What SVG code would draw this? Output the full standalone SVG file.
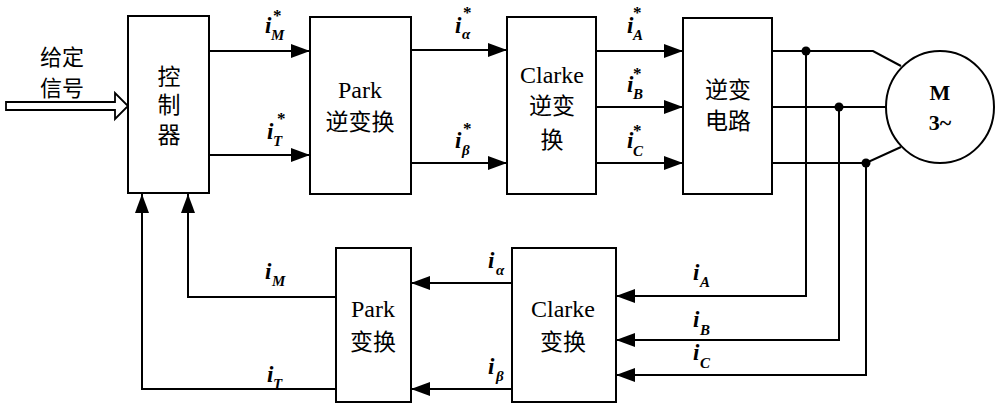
<svg xmlns="http://www.w3.org/2000/svg" width="998" height="404" viewBox="0 0 998 404">
<style>
.box{fill:#fff;stroke:#000;stroke-width:2}
.ln{fill:none;stroke:#000;stroke-width:2}
.cn{font-family:"Noto Sans CJK SC","Noto Sans",sans-serif;font-size:23px;fill:#000;text-anchor:middle}
.lt{font-family:"Liberation Serif",serif;font-size:24px;fill:#000;text-anchor:middle}
.i{font-family:"Liberation Serif",serif;font-size:23px;font-weight:bold;font-style:italic;fill:#000}
.s{font-family:"Liberation Serif",serif;font-size:15px;font-weight:bold;font-style:italic;fill:#000}
.st{font-family:"Liberation Serif",serif;font-size:17px;font-weight:bold;fill:#000}
</style>
<defs>
<marker id="ah" markerUnits="userSpaceOnUse" markerWidth="20" markerHeight="14" refX="19" refY="7" orient="auto">
<path d="M0,0 L19,7 L0,14 Z" fill="#000"/>
</marker>
</defs>
<rect width="998" height="404" fill="#fff"/>

<g id="input">
<polygon points="6,102 115,102 115,93 128,106 115,119 115,110 6,110" fill="#fff" stroke="#000" stroke-width="1.8"/>
<text x="40" y="65" class="cn" style="text-anchor:start;font-size:22px">给定</text>
<text x="40" y="96" class="cn" style="text-anchor:start;font-size:22px">信号</text>
</g>

<g id="controller">
<rect x="128" y="16" width="81" height="177" class="box"/>
<text x="169" y="85" class="cn">控</text>
<text x="169" y="113" class="cn">制</text>
<text x="169" y="143" class="cn">器</text>
</g>

<g id="park_inv">
<rect x="310" y="17" width="101" height="177" class="box"/>
<text x="360" y="98" class="lt">Park</text>
<text x="360" y="130" class="cn">逆变换</text>
</g>

<g id="clarke_inv">
<rect x="507" y="17" width="89" height="177" class="box"/>
<text x="552" y="83" class="lt">Clarke</text>
<text x="552" y="114" class="cn">逆变</text>
<text x="552" y="148" class="cn">换</text>
</g>

<g id="inverter">
<rect x="683" y="18" width="89" height="176" class="box"/>
<text x="728" y="98" class="cn">逆变</text>
<text x="728" y="129" class="cn">电路</text>
</g>

<g id="motor">
<ellipse cx="940" cy="107" rx="54" ry="56" class="box"/>
<text x="940" y="100" class="lt" style="font-weight:bold;font-size:22px">M</text>
<text x="940" y="130" class="lt" style="font-weight:bold;font-size:22px">3~</text>
</g>

<g id="park">
<rect x="336" y="248" width="75" height="154" class="box"/>
<text x="373" y="317" class="lt">Park</text>
<text x="373" y="350" class="cn">变换</text>
</g>

<g id="clarke">
<rect x="512" y="248" width="104" height="154" class="box"/>
<text x="563" y="317" class="lt">Clarke</text>
<text x="563" y="350" class="cn">变换</text>
</g>

<g id="connectors">
<line x1="209" y1="51" x2="310" y2="51" class="ln" marker-end="url(#ah)"/>
<line x1="209" y1="155" x2="310" y2="155" class="ln" marker-end="url(#ah)"/>
<line x1="411" y1="50" x2="507" y2="50" class="ln" marker-end="url(#ah)"/>
<line x1="411" y1="163" x2="507" y2="163" class="ln" marker-end="url(#ah)"/>
<line x1="596" y1="51" x2="683" y2="51" class="ln" marker-end="url(#ah)"/>
<line x1="596" y1="107" x2="683" y2="107" class="ln" marker-end="url(#ah)"/>
<line x1="596" y1="163" x2="683" y2="163" class="ln" marker-end="url(#ah)"/>
<polyline points="772,51 873,51 901,66" class="ln"/>
<line x1="772" y1="107" x2="886" y2="107" class="ln"/>
<polyline points="772,163 866,163 901,147" class="ln"/>
<circle cx="806" cy="51" r="4.5" fill="#000"/>
<circle cx="839" cy="107" r="4.5" fill="#000"/>
<circle cx="866" cy="163" r="4.5" fill="#000"/>
<polyline points="806,51 806,296 616,296" class="ln" marker-end="url(#ah)"/>
<polyline points="839,107 839,340 616,340" class="ln" marker-end="url(#ah)"/>
<polyline points="866,163 866,375 616,375" class="ln" marker-end="url(#ah)"/>
<line x1="512" y1="283" x2="411" y2="283" class="ln" marker-end="url(#ah)"/>
<line x1="512" y1="389" x2="411" y2="389" class="ln" marker-end="url(#ah)"/>
<polyline points="336,297 188,297 188,194" class="ln" marker-end="url(#ah)"/>
<polyline points="336,389 142,389 142,194" class="ln" marker-end="url(#ah)"/>
</g>

<g id="labels">
<text x="265" y="33" class="i">i</text><text x="271" y="40" class="s">M</text><text x="273" y="21" class="st">*</text>
<text x="267" y="139" class="i">i</text><text x="273" y="146" class="s">T</text><text x="277" y="124" class="st">*</text>
<text x="455" y="33" class="i">i</text><text x="462" y="39" class="s">α</text><text x="463" y="18" class="st">*</text>
<text x="455" y="148" class="i">i</text><text x="462" y="155" class="s">β</text><text x="463" y="134" class="st">*</text>
<text x="627" y="33" class="i">i</text><text x="633" y="40" class="s">A</text><text x="633" y="18" class="st">*</text>
<text x="627" y="92" class="i">i</text><text x="633" y="99" class="s">B</text><text x="633" y="79" class="st">*</text>
<text x="627" y="148" class="i">i</text><text x="633" y="156" class="s">C</text><text x="633" y="136" class="st">*</text>
<text x="265" y="279" class="i">i</text><text x="272" y="286" class="s">M</text>
<text x="267" y="382" class="i">i</text><text x="273" y="389" class="s">T</text>
<text x="488" y="268" class="i">i</text><text x="496" y="275" class="s">α</text>
<text x="488" y="374" class="i">i</text><text x="496" y="381" class="s">β</text>
<text x="693" y="280" class="i">i</text><text x="700" y="287" class="s">A</text>
<text x="693" y="327" class="i">i</text><text x="700" y="335" class="s">B</text>
<text x="693" y="360" class="i">i</text><text x="700" y="368" class="s">C</text>
</g>
</svg>
